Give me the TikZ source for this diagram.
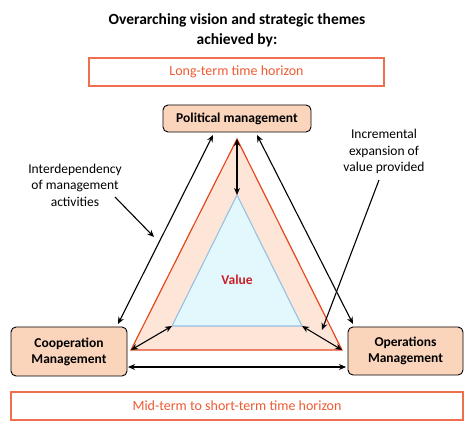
\documentclass[tikz,border=0pt]{standalone}
\usepackage{fontspec}
\setmainfont{Carlito}
\usetikzlibrary{arrows.meta}
\definecolor{boxor}{RGB}{240,110,80}
\definecolor{txtor}{RGB}{238,90,50}
\definecolor{trior}{RGB}{232,72,30}
\definecolor{peach}{RGB}{251,212,188}
\definecolor{lpeach}{RGB}{253,229,216}
\definecolor{lcyan}{RGB}{226,248,252}
\definecolor{lblue}{RGB}{150,192,228}
\definecolor{valred}{RGB}{205,30,40}
\tikzset{
  horizon/.style={draw=boxor, line width=1.1pt},
  horizontext/.style={text=txtor, font=\fontsize{14}{16}\selectfont},
  mgmt/.style={draw=black, line width=0.9pt, fill=peach, rounded corners=5pt},
  mgmttext/.style={align=center, font=\bfseries\fontsize{13.5}{16}\selectfont},
  dbl/.style={line width=1.1pt, {Stealth[length=7pt,width=6pt]}-{Stealth[length=7pt,width=6pt]}},
  sgl/.style={line width=1.1pt, -{Stealth[length=7pt,width=6pt]}},
  note/.style={align=center, font=\fontsize{13.5}{16.5}\selectfont}
}
\begin{document}
\begin{tikzpicture}[x=1pt,y=-1pt]
\useasboundingbox (0,0) rectangle (474,430);
% title
\node[align=center, font=\bfseries\fontsize{15.5}{20}\selectfont] (title) at (237,30) {Overarching vision and strategic themes\\achieved by:};
% horizon boxes
\draw[horizon] (89,58) rectangle (384,86);
\node[horizontext] (lt) at (236.5,72) {Long-term time horizon};
\draw[horizon] (11,392) rectangle (463,420);
\node[horizontext] (mt) at (237,406) {Mid-term to short-term time horizon};
% triangles
\coordinate (oA) at (237,139);
\coordinate (oL) at (131,350);
\coordinate (oR) at (342,350);
\coordinate (iA) at (237,195);
\coordinate (iL) at (172,326);
\coordinate (iR) at (302,326);
\draw[trior, line width=1.2pt, fill=lpeach] (oA) -- (oL) -- (oR) -- cycle;
\draw[lblue, line width=1.1pt, fill=lcyan] (iA) -- (iL) -- (iR) -- cycle;
\node[text=valred, font=\bfseries\fontsize{13.5}{16}\selectfont] (val) at (237,280) {Value};
% management boxes
\path[mgmt] (163,105) rectangle (311,132);
\node[mgmttext] (pol) at (237,118.5) {Political management};
\path[mgmt] (11,327) rectangle (127,376);
\node[mgmttext] (coop) at (69,351.5) {Cooperation\\Management};
\path[mgmt] (348,327) rectangle (463,375);
\node[mgmttext] (ops) at (405.5,351) {Operations\\Management};
% outer interdependency arrows
\coordinate (pl) at (213,135);
\coordinate (pr) at (257,135);
\coordinate (cl) at (118,324);
\coordinate (or) at (353,324);
\coordinate (bl) at (128,367);
\coordinate (br) at (346,367);
\draw[dbl] (cl) -- (pl);
\draw[dbl] (pr) -- (or);
\draw[dbl] (bl) -- (br);
% value expansion arrows
\draw[dbl] (oA) -- (iA);
\draw[dbl] (oL) -- (iL);
\draw[dbl] (oR) -- (iR);
% annotations
\node[note] (inter) at (75,185) {Interdependency\\of management\\activities};
\coordinate (i1) at (115,197);
\coordinate (i2) at (154,237);
\draw[sgl] (i1) -- (i2);
\node[note] (incr) at (384,151.5) {Incremental\\expansion of\\value provided};
\coordinate (n1) at (379,180);
\coordinate (n2) at (322,330);
\draw[sgl] (n1) -- (n2);
\end{tikzpicture}
\end{document}
